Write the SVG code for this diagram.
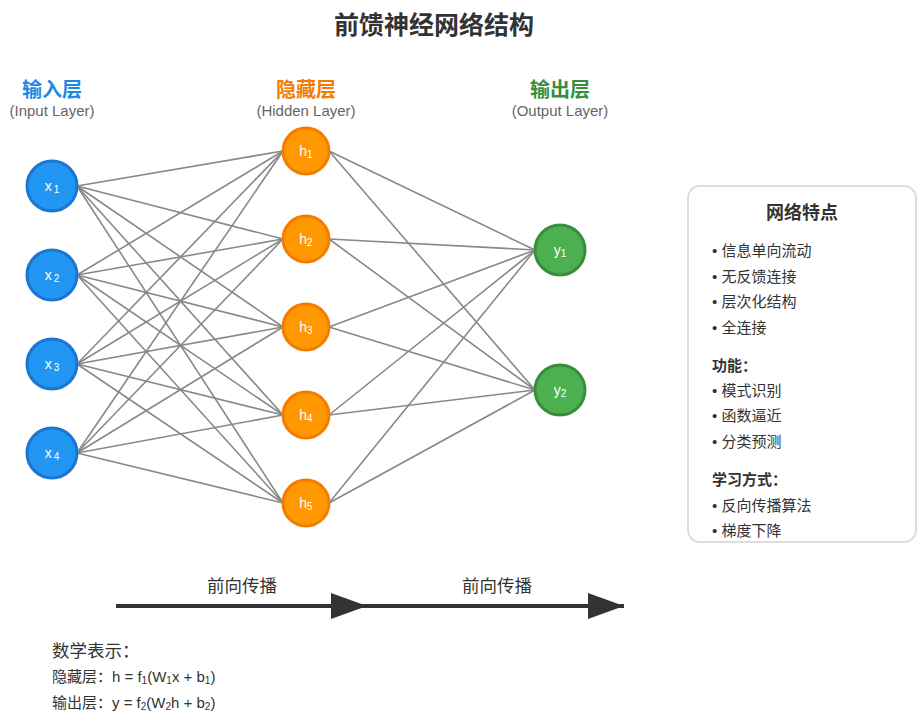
<svg xmlns="http://www.w3.org/2000/svg" width="919" height="720" viewBox="0 0 919 720">
<defs>
<style>
text{font-family:"Liberation Sans","Noto Sans CJK SC",sans-serif;}
.title{font-size:25px;font-weight:bold;fill:#333;text-anchor:middle;}
.layer{font-size:20px;font-weight:bold;text-anchor:middle;}
.sub{font-size:15px;fill:#666;text-anchor:middle;}
.conn line{stroke:#888;stroke-width:1.6;}
.in circle{fill:#2196F3;stroke:#1976D2;stroke-width:3;}
.hid circle{fill:#FF9800;stroke:#F57C00;stroke-width:3;}
.out circle{fill:#4CAF50;stroke:#388E3C;stroke-width:3;}
.nl{font-size:14px;fill:#fff;text-anchor:middle;}
.nl tspan{font-size:10px;}
.panel{fill:#fff;stroke:#ddd;stroke-width:2;}
.pt{font-size:18px;font-weight:bold;fill:#333;text-anchor:middle;}
.pi{font-size:15px;fill:#333;}
.ph{font-size:15px;font-weight:bold;fill:#333;}
.flow{stroke:#333;stroke-width:4;}
.ft{font-size:17.5px;fill:#333;text-anchor:middle;}
.mh{font-size:17.5px;fill:#333;}
.mf{font-size:15px;fill:#333;}
.mf tspan.s{font-size:10px;}
</style>
<marker id="ah" markerWidth="40" markerHeight="28" refX="36" refY="13" orient="auto" markerUnits="userSpaceOnUse">
<polygon points="0,0 36,13 0,26" fill="#333"/>
</marker>
</defs>
<rect width="919" height="720" fill="#fff"/>
<text class="title" x="434" y="34">前馈神经网络结构</text>
<g id="layer-labels">
<text class="layer" x="52" y="97" fill="#1E88E5">输入层</text>
<text class="sub" x="52" y="116">(Input Layer)</text>
<text class="layer" x="306" y="97" fill="#F57C00">隐藏层</text>
<text class="sub" x="306" y="116">(Hidden Layer)</text>
<text class="layer" x="560" y="97" fill="#388E3C">输出层</text>
<text class="sub" x="560" y="116">(Output Layer)</text>
</g>
<g id="connectors" class="conn">
<line x1="77" y1="186" x2="283" y2="151"/><line x1="77" y1="186" x2="283" y2="239"/><line x1="77" y1="186" x2="283" y2="327"/><line x1="77" y1="186" x2="283" y2="415"/><line x1="77" y1="186" x2="283" y2="503"/>
<line x1="77" y1="275" x2="283" y2="151"/><line x1="77" y1="275" x2="283" y2="239"/><line x1="77" y1="275" x2="283" y2="327"/><line x1="77" y1="275" x2="283" y2="415"/><line x1="77" y1="275" x2="283" y2="503"/>
<line x1="77" y1="364" x2="283" y2="151"/><line x1="77" y1="364" x2="283" y2="239"/><line x1="77" y1="364" x2="283" y2="327"/><line x1="77" y1="364" x2="283" y2="415"/><line x1="77" y1="364" x2="283" y2="503"/>
<line x1="77" y1="453" x2="283" y2="151"/><line x1="77" y1="453" x2="283" y2="239"/><line x1="77" y1="453" x2="283" y2="327"/><line x1="77" y1="453" x2="283" y2="415"/><line x1="77" y1="453" x2="283" y2="503"/>
<line x1="329" y1="151" x2="535" y2="250"/><line x1="329" y1="151" x2="535" y2="390"/>
<line x1="329" y1="239" x2="535" y2="250"/><line x1="329" y1="239" x2="535" y2="390"/>
<line x1="329" y1="327" x2="535" y2="250"/><line x1="329" y1="327" x2="535" y2="390"/>
<line x1="329" y1="415" x2="535" y2="250"/><line x1="329" y1="415" x2="535" y2="390"/>
<line x1="329" y1="503" x2="535" y2="250"/><line x1="329" y1="503" x2="535" y2="390"/>
</g>
<g id="x1" class="in"><circle cx="52" cy="186" r="25"/><text class="nl" x="52" y="191">x<tspan dx="2" dy="2">1</tspan></text></g>
<g id="x2" class="in"><circle cx="52" cy="275" r="25"/><text class="nl" x="52" y="280">x<tspan dx="2" dy="2">2</tspan></text></g>
<g id="x3" class="in"><circle cx="52" cy="364" r="25"/><text class="nl" x="52" y="369">x<tspan dx="2" dy="2">3</tspan></text></g>
<g id="x4" class="in"><circle cx="52" cy="453" r="25"/><text class="nl" x="52" y="458">x<tspan dx="2" dy="2">4</tspan></text></g>
<g id="h1" class="hid"><circle cx="306" cy="151" r="23"/><text class="nl" x="306" y="156">h<tspan dy="2">1</tspan></text></g>
<g id="h2" class="hid"><circle cx="306" cy="239" r="23"/><text class="nl" x="306" y="244">h<tspan dy="2">2</tspan></text></g>
<g id="h3" class="hid"><circle cx="306" cy="327" r="23"/><text class="nl" x="306" y="332">h<tspan dy="2">3</tspan></text></g>
<g id="h4" class="hid"><circle cx="306" cy="415" r="23"/><text class="nl" x="306" y="420">h<tspan dy="2">4</tspan></text></g>
<g id="h5" class="hid"><circle cx="306" cy="503" r="23"/><text class="nl" x="306" y="508">h<tspan dy="2">5</tspan></text></g>
<g id="y1" class="out"><circle cx="560" cy="250" r="25"/><text class="nl" x="560" y="255">y<tspan dy="2">1</tspan></text></g>
<g id="y2" class="out"><circle cx="560" cy="390" r="25"/><text class="nl" x="560" y="395">y<tspan dy="2">2</tspan></text></g>
<g id="features-panel">
<rect class="panel" x="688" y="186" width="228" height="356" rx="12"/>
<text class="pt" x="802" y="219">网络特点</text>
<text class="pi" x="712" y="256">• 信息单向流动</text>
<text class="pi" x="712" y="282">• 无反馈连接</text>
<text class="pi" x="712" y="307">• 层次化结构</text>
<text class="pi" x="712" y="333">• 全连接</text>
<text class="ph" x="712" y="371">功能：</text>
<text class="pi" x="712" y="396">• 模式识别</text>
<text class="pi" x="712" y="421">• 函数逼近</text>
<text class="pi" x="712" y="447">• 分类预测</text>
<text class="ph" x="712" y="485">学习方式：</text>
<text class="pi" x="712" y="511">• 反向传播算法</text>
<text class="pi" x="712" y="536">• 梯度下降</text>
</g>
<g id="flow-arrows">
<line class="flow" x1="116" y1="606" x2="367" y2="606" marker-end="url(#ah)"/>
<line class="flow" x1="367" y1="606" x2="624" y2="606" marker-end="url(#ah)"/>
<text class="ft" x="242" y="592">前向传播</text>
<text class="ft" x="497" y="592">前向传播</text>
</g>
<g id="math">
<text class="mh" x="52" y="657">数学表示：</text>
<text class="mf" x="52" y="682">隐藏层：h = f<tspan class="s" dy="2">1</tspan><tspan dy="-2">(W</tspan><tspan class="s" dy="2">1</tspan><tspan dy="-2">x + b</tspan><tspan class="s" dy="2">1</tspan><tspan dy="-2">)</tspan></text>
<text class="mf" x="52" y="708">输出层：y = f<tspan class="s" dy="2">2</tspan><tspan dy="-2">(W</tspan><tspan class="s" dy="2">2</tspan><tspan dy="-2">h + b</tspan><tspan class="s" dy="2">2</tspan><tspan dy="-2">)</tspan></text>
</g>
</svg>
